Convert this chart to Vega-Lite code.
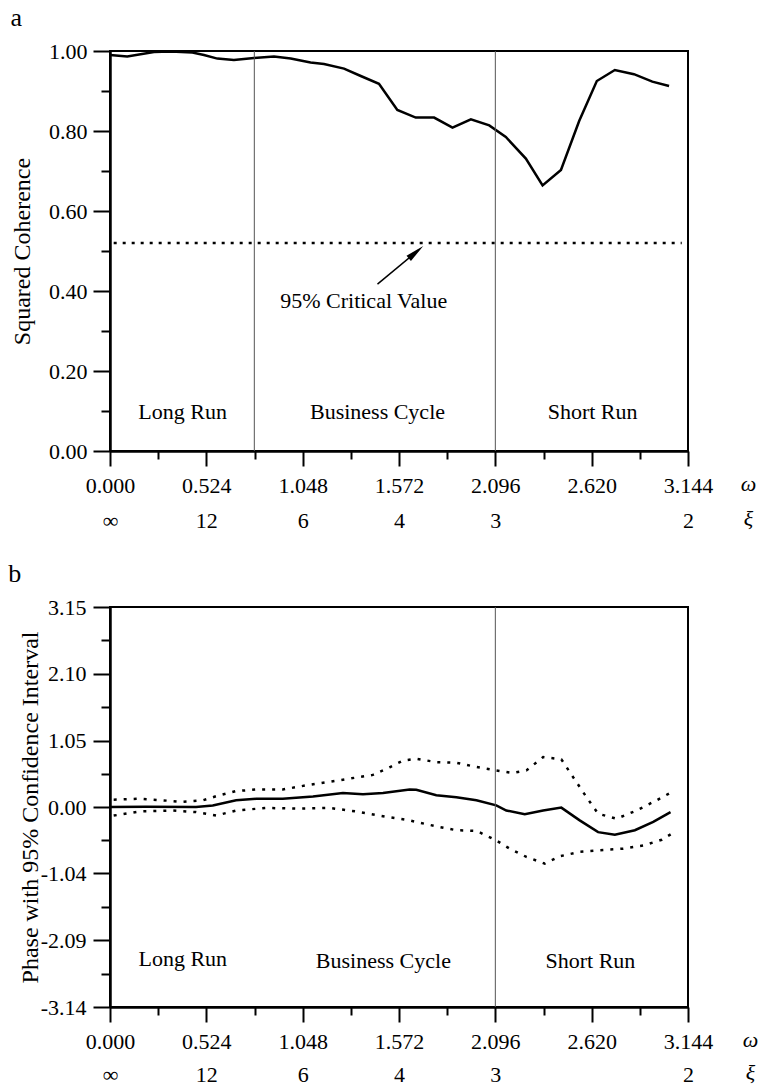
{
  "$schema": "https://vega.github.io/schema/vega-lite/v6.json",
  "padding": {"left": 7, "top": 4, "right": 2, "bottom": 2},
  "config": {
    "font": "Liberation Serif",
    "view": {"stroke": "black", "strokeWidth": 2},
    "axis": {
      "labelFont": "Liberation Serif", "labelFontSize": 22, "labelColor": "black",
      "titleFont": "Liberation Serif", "titleFontSize": 24, "titleFontWeight": "normal", "titleColor": "black",
      "domainColor": "black", "tickColor": "black", "grid": false,
      "domainWidth": 2.5, "tickWidth": 2
    },
    "title": {"font": "Liberation Serif", "fontSize": 26, "fontWeight": "normal", "anchor": "start", "frame": "bounds", "offset": 9, "color": "black"},
    "text": {"font": "Liberation Serif", "fontSize": 22, "color": "black"}
  },
  "datasets": {
    "coh": [
      {"w": 0.0, "c": 0.99}, {"w": 0.094, "c": 0.986}, {"w": 0.239, "c": 0.9975}, {"w": 0.33, "c": 0.999},
      {"w": 0.448, "c": 0.996}, {"w": 0.511, "c": 0.99}, {"w": 0.584, "c": 0.981}, {"w": 0.674, "c": 0.9775},
      {"w": 0.783, "c": 0.9825}, {"w": 0.892, "c": 0.986}, {"w": 0.983, "c": 0.981}, {"w": 1.091, "c": 0.971},
      {"w": 1.164, "c": 0.9675}, {"w": 1.273, "c": 0.956}, {"w": 1.364, "c": 0.9375}, {"w": 1.463, "c": 0.918},
      {"w": 1.563, "c": 0.8525}, {"w": 1.663, "c": 0.8335}, {"w": 1.763, "c": 0.8335}, {"w": 1.863, "c": 0.8085},
      {"w": 1.963, "c": 0.829}, {"w": 2.063, "c": 0.814}, {"w": 2.153, "c": 0.785}, {"w": 2.262, "c": 0.731},
      {"w": 2.353, "c": 0.664}, {"w": 2.453, "c": 0.7025}, {"w": 2.552, "c": 0.825}, {"w": 2.648, "c": 0.925},
      {"w": 2.746, "c": 0.9525}, {"w": 2.85, "c": 0.942}, {"w": 2.95, "c": 0.9235}, {"w": 3.041, "c": 0.9125}
    ],
    "crit": [{"w": 0.02, "c": 0.52}, {"w": 3.11, "c": 0.52}],
    "sepA": [{"w": 0.785}, {"w": 2.096}],
    "sepB": [{"w": 2.096}],
    "regA": [
      {"w": 0.395, "c": 0.097, "label": "Long Run"},
      {"w": 1.455, "c": 0.097, "label": "Business Cycle"},
      {"w": 2.625, "c": 0.097, "label": "Short Run"}
    ],
    "critLabel": [{"w": 1.38, "c": 0.374, "label": "95% Critical Value"}],
    "arrow": [{"w": 1.455, "c": 0.417, "w2": 1.68, "c2": 0.503}],
    "arrowHead": [{"w": 1.6645, "c": 0.497}],
    "phase": [
      {"w": 0.0, "p": 0.005}, {"w": 0.196, "p": 0.01}, {"w": 0.468, "p": 0.005}, {"w": 0.559, "p": 0.03},
      {"w": 0.686, "p": 0.11}, {"w": 0.795, "p": 0.135}, {"w": 0.94, "p": 0.135}, {"w": 1.104, "p": 0.17},
      {"w": 1.267, "p": 0.225}, {"w": 1.376, "p": 0.205}, {"w": 1.485, "p": 0.225}, {"w": 1.63, "p": 0.28},
      {"w": 1.666, "p": 0.275}, {"w": 1.775, "p": 0.19}, {"w": 1.884, "p": 0.16}, {"w": 1.993, "p": 0.11},
      {"w": 2.101, "p": 0.03}, {"w": 2.156, "p": -0.05}, {"w": 2.256, "p": -0.11}, {"w": 2.356, "p": -0.05},
      {"w": 2.455, "p": -0.005}, {"w": 2.555, "p": -0.205}, {"w": 2.655, "p": -0.39}, {"w": 2.746, "p": -0.43},
      {"w": 2.855, "p": -0.36}, {"w": 2.955, "p": -0.23}, {"w": 3.049, "p": -0.075}
    ],
    "ci": [
      {"bound": "upper", "w": 0.02, "p": 0.12}, {"bound": "upper", "w": 0.16, "p": 0.135}, {"bound": "upper", "w": 0.287, "p": 0.11},
      {"bound": "upper", "w": 0.396, "p": 0.085}, {"bound": "upper", "w": 0.505, "p": 0.11}, {"bound": "upper", "w": 0.595, "p": 0.19},
      {"bound": "upper", "w": 0.686, "p": 0.255}, {"bound": "upper", "w": 0.795, "p": 0.28}, {"bound": "upper", "w": 0.94, "p": 0.28},
      {"bound": "upper", "w": 1.085, "p": 0.355}, {"bound": "upper", "w": 1.267, "p": 0.435}, {"bound": "upper", "w": 1.43, "p": 0.51},
      {"bound": "upper", "w": 1.521, "p": 0.63}, {"bound": "upper", "w": 1.594, "p": 0.735}, {"bound": "upper", "w": 1.666, "p": 0.765},
      {"bound": "upper", "w": 1.775, "p": 0.71}, {"bound": "upper", "w": 1.884, "p": 0.7}, {"bound": "upper", "w": 1.993, "p": 0.635},
      {"bound": "upper", "w": 2.101, "p": 0.58}, {"bound": "upper", "w": 2.192, "p": 0.54}, {"bound": "upper", "w": 2.265, "p": 0.58},
      {"bound": "upper", "w": 2.356, "p": 0.79}, {"bound": "upper", "w": 2.455, "p": 0.755}, {"bound": "upper", "w": 2.519, "p": 0.475},
      {"bound": "upper", "w": 2.592, "p": 0.16}, {"bound": "upper", "w": 2.655, "p": -0.1}, {"bound": "upper", "w": 2.755, "p": -0.18},
      {"bound": "upper", "w": 2.864, "p": -0.05}, {"bound": "upper", "w": 2.973, "p": 0.11}, {"bound": "upper", "w": 3.055, "p": 0.24},
      {"bound": "lower", "w": 0.02, "p": -0.13}, {"bound": "lower", "w": 0.16, "p": -0.065}, {"bound": "lower", "w": 0.341, "p": -0.05},
      {"bound": "lower", "w": 0.468, "p": -0.075}, {"bound": "lower", "w": 0.577, "p": -0.13}, {"bound": "lower", "w": 0.686, "p": -0.05},
      {"bound": "lower", "w": 0.849, "p": -0.01}, {"bound": "lower", "w": 1.013, "p": -0.02}, {"bound": "lower", "w": 1.194, "p": -0.01},
      {"bound": "lower", "w": 1.339, "p": -0.065}, {"bound": "lower", "w": 1.485, "p": -0.14}, {"bound": "lower", "w": 1.63, "p": -0.205},
      {"bound": "lower", "w": 1.666, "p": -0.23}, {"bound": "lower", "w": 1.775, "p": -0.3}, {"bound": "lower", "w": 1.884, "p": -0.36},
      {"bound": "lower", "w": 1.993, "p": -0.37}, {"bound": "lower", "w": 2.101, "p": -0.52}, {"bound": "lower", "w": 2.174, "p": -0.65},
      {"bound": "lower", "w": 2.265, "p": -0.78}, {"bound": "lower", "w": 2.365, "p": -0.885}, {"bound": "lower", "w": 2.447, "p": -0.77},
      {"bound": "lower", "w": 2.555, "p": -0.7}, {"bound": "lower", "w": 2.664, "p": -0.675}, {"bound": "lower", "w": 2.792, "p": -0.65},
      {"bound": "lower", "w": 2.901, "p": -0.6}, {"bound": "lower", "w": 3.001, "p": -0.51}, {"bound": "lower", "w": 3.055, "p": -0.415}
    ],
    "regB": [
      {"w": 0.396, "p": -2.38, "label": "Long Run"},
      {"w": 1.487, "p": -2.42, "label": "Business Cycle"},
      {"w": 2.613, "p": -2.41, "label": "Short Run"}
    ]
  },
  "concat": [
    {
      "title": {"text": "a"},
      "width": 578,
      "height": 400,
      "resolve": {"axis": {"x": "independent", "y": "independent"}},
      "layer": [
        {
          "data": {"name": "coh"},
          "mark": {"type": "line", "color": "black", "strokeWidth": 2.5},
          "encoding": {
            "x": {"field": "w", "type": "quantitative", "scale": {"domain": [0, 3.144], "nice": false, "zero": false},
              "axis": {"orient": "bottom", "values": [0, 0.524, 1.048, 1.572, 2.096, 2.62, 3.144], "tickSize": 15, "labelPadding": 9,
                "labelFlush": false, "labelOverlap": false, "labelLineHeight": 35,
                "labelExpr": "[format(datum.value, '.3f'), datum.value < 0.1 ? '∞' : datum.value < 0.6 ? '12' : datum.value < 1.1 ? '6' : datum.value < 1.6 ? '4' : datum.value < 2.2 ? '3' : datum.value < 3 ? '' : '2']",
                "title": ["ω", "ξ"], "titleX": 638, "titleY": 22, "titleBaseline": "top", "titleAlign": "center", "titleAngle": 0,
                "titleFontStyle": "italic", "titleFontSize": 22, "titleLineHeight": 35}},
            "y": {"field": "c", "type": "quantitative", "scale": {"domain": [0, 1], "nice": false},
              "axis": {"orient": "left", "values": [0, 0.2, 0.4, 0.6, 0.8, 1], "format": ".2f", "tickSize": 17, "labelPadding": 6,
                "title": "Squared Coherence", "titlePadding": 14}}
          }
        },
        {
          "data": {"name": "crit"},
          "mark": {"type": "line", "color": "black", "strokeWidth": 2.5, "strokeDash": [3, 6]},
          "encoding": {
            "x": {"field": "w", "type": "quantitative", "scale": {"domain": [0, 3.144], "nice": false, "zero": false},
              "axis": {"orient": "bottom", "values": [0.262, 0.786, 1.31, 1.834, 2.358, 2.882], "tickSize": 8, "labels": false, "domain": false, "title": null}},
            "y": {"field": "c", "type": "quantitative", "scale": {"domain": [0, 1], "nice": false},
              "axis": {"orient": "left", "values": [0.1, 0.3, 0.5, 0.7, 0.9], "tickSize": 9, "labels": false, "domain": false, "title": null}}
          }
        },
        {
          "data": {"name": "sepA"},
          "mark": {"type": "rule", "color": "#555555", "strokeWidth": 1},
          "encoding": {"x": {"field": "w", "type": "quantitative", "axis": null}}
        },
        {
          "data": {"name": "regA"},
          "mark": {"type": "text", "baseline": "middle", "align": "center"},
          "encoding": {
            "x": {"field": "w", "type": "quantitative", "axis": null},
            "y": {"field": "c", "type": "quantitative", "axis": null},
            "text": {"field": "label"}
          }
        },
        {
          "data": {"name": "critLabel"},
          "mark": {"type": "text", "baseline": "middle", "align": "center"},
          "encoding": {
            "x": {"field": "w", "type": "quantitative", "axis": null},
            "y": {"field": "c", "type": "quantitative", "axis": null},
            "text": {"field": "label"}
          }
        },
        {
          "data": {"name": "arrow"},
          "mark": {"type": "rule", "color": "black", "strokeWidth": 1.5},
          "encoding": {
            "x": {"field": "w", "type": "quantitative", "axis": null},
            "y": {"field": "c", "type": "quantitative", "axis": null},
            "x2": {"field": "w2"},
            "y2": {"field": "c2"}
          }
        },
        {
          "data": {"name": "arrowHead"},
          "mark": {"type": "point", "shape": "M0,-1L0.36,1L-0.36,1Z", "filled": true, "color": "black", "opacity": 1, "size": 361, "angle": 50},
          "encoding": {
            "x": {"field": "w", "type": "quantitative", "axis": null},
            "y": {"field": "c", "type": "quantitative", "axis": null}
          }
        }
      ]
    },
    {
      "title": {"text": "b", "dx": -10},
      "width": 578,
      "height": 400,
      "resolve": {"axis": {"x": "independent", "y": "independent"}},
      "layer": [
        {
          "data": {"name": "phase"},
          "mark": {"type": "line", "color": "black", "strokeWidth": 2.5},
          "encoding": {
            "x": {"field": "w", "type": "quantitative", "scale": {"domain": [0, 3.144], "nice": false, "zero": false},
              "axis": {"orient": "bottom", "values": [0, 0.524, 1.048, 1.572, 2.096, 2.62, 3.144], "tickSize": 15, "labelPadding": 9,
                "labelFlush": false, "labelOverlap": false, "labelLineHeight": 33,
                "labelExpr": "[format(datum.value, '.3f'), datum.value < 0.1 ? '∞' : datum.value < 0.6 ? '12' : datum.value < 1.1 ? '6' : datum.value < 1.6 ? '4' : datum.value < 2.2 ? '3' : datum.value < 3 ? '' : '2']",
                "title": ["ω", "ξ"], "titleX": 640, "titleY": 22, "titleBaseline": "top", "titleAlign": "center", "titleAngle": 0,
                "titleFontStyle": "italic", "titleFontSize": 22, "titleLineHeight": 33}},
            "y": {"field": "p", "type": "quantitative", "scale": {"domain": [-3.14, 3.15], "nice": false, "zero": false},
              "axis": {"orient": "left", "values": [-3.14, -2.09, -1.04, 0, 1.05, 2.1, 3.15], "tickSize": 17, "labelPadding": 7,
                "labelExpr": "datum.value < 0 ? '-' + format(-datum.value, '.2f') : format(datum.value, '.2f')",
                "title": "Phase with 95% Confidence Interval", "titlePadding": -2}}
          }
        },
        {
          "data": {"name": "ci"},
          "mark": {"type": "line", "color": "black", "strokeWidth": 2.5, "strokeDash": [3, 7]},
          "encoding": {
            "x": {"field": "w", "type": "quantitative", "scale": {"domain": [0, 3.144], "nice": false, "zero": false},
              "axis": {"orient": "bottom", "values": [0.262, 0.786, 1.31, 1.834, 2.358, 2.882], "tickSize": 8, "labels": false, "domain": false, "title": null}},
            "y": {"field": "p", "type": "quantitative", "scale": {"domain": [-3.14, 3.15], "nice": false, "zero": false},
              "axis": {"orient": "left", "values": [-2.615, -1.565, -0.52, 0.525, 1.575, 2.625], "tickSize": 9, "labels": false, "domain": false, "title": null}},
            "detail": {"field": "bound"}
          }
        },
        {
          "data": {"name": "sepB"},
          "mark": {"type": "rule", "color": "#555555", "strokeWidth": 1},
          "encoding": {"x": {"field": "w", "type": "quantitative", "axis": null}}
        },
        {
          "data": {"name": "regB"},
          "mark": {"type": "text", "baseline": "middle", "align": "center"},
          "encoding": {
            "x": {"field": "w", "type": "quantitative", "axis": null},
            "y": {"field": "p", "type": "quantitative", "axis": null},
            "text": {"field": "label"}
          }
        }
      ]
    }
  ],
  "columns": 1,
  "align": "none",
  "spacing": 28
}
